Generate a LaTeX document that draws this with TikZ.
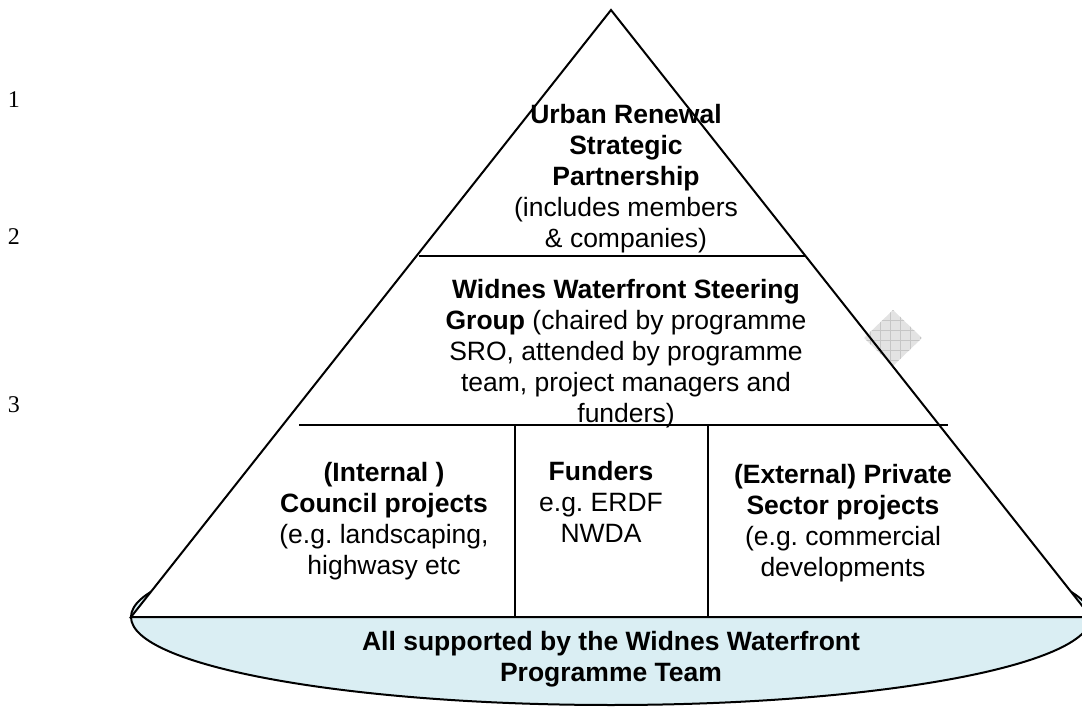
\documentclass[tikz,border=0pt]{standalone}
\usepackage{fontspec}
\setmainfont{Liberation Sans}
\newfontfamily\numfont{Liberation Serif}
\definecolor{baseblue}{RGB}{218,238,243}
\newcommand{\tierLine}[0]{2pt}

\tikzset{
  tier/.style={align=center, font=\fontsize{26.5}{31}\selectfont\frenchspacing},
  levelnum/.style={font=\numfont\fontsize{24}{28}\selectfont},
  divider/.style={line width=\tierLine},
}

\begin{document}
\begin{tikzpicture}[x=1pt, y=-1pt]
  \useasboundingbox (0,0) rectangle (1082,708);
  \clip (0,0) rectangle (1082,708);
  \coordinate (apex) at (611,10);
  \coordinate (baseL) at (131,617);
  \coordinate (baseR) at (1091,617);

  % programme team ellipse under the pyramid
  \draw[line width=\tierLine, fill=baseblue] (611,617) ellipse [x radius=480, y radius=88];
  \fill[white] (apex) -- (baseL) -- (baseR) -- cycle;

  % small grey gridded diamond
  \begin{scope}
    \clip (893,310) -- (922,338) -- (893,366) -- (864,338) -- cycle;
    \fill[gray!22] (860,305) rectangle (926,370);
    \draw[gray!45, line width=0.8pt] (860,305) grid[step=10pt] (926,370);
  \end{scope}

  \draw[line width=\tierLine] (apex) -- (baseL) -- (baseR) -- cycle;

  % tiers
  \coordinate (upL) at (419,256);
  \coordinate (upR) at (805,256);
  \coordinate (lowL) at (299,425);
  \coordinate (lowR) at (948,425);
  \draw[divider] (upL) -- (upR);
  \draw[divider] (lowL) -- (lowR);
  \draw[divider] (515,425) -- (515,617);
  \draw[divider] (708,425) -- (708,617);

  \node[tier] (urs) at (626,179)
    {\textbf{Urban Renewal}\\\textbf{Strategic}\\\textbf{Partnership}\\(includes members\\\& companies)};
  \node[tier] (steer) at (626,354)
    {\textbf{Widnes Waterfront Steering}\\\textbf{Group} (chaired by programme\\SRO, attended by programme\\team, project managers and\\funders)};
  \node[tier] (council) at (384,521)
    {\textbf{(Internal )}\\\textbf{Council projects}\\(e.g. landscaping,\\highwasy etc};
  \node[tier] (funders) at (601,502)
    {\textbf{Funders}\\e.g. ERDF\\NWDA};
  \node[tier] (private) at (843,523)
    {\textbf{(External) Private}\\\textbf{Sector projects}\\(e.g. commercial\\developments};
  \node[tier, font=\fontsize{26.5}{31}\selectfont\bfseries] (team) at (611,659)
    {All supported by the Widnes Waterfront\\Programme Team};

  % level numbers
  \node[levelnum] (lvl1) at (14,100) {1};
  \node[levelnum] (lvl2) at (14,237) {2};
  \node[levelnum] (lvl3) at (14,405) {3};
\end{tikzpicture}
\end{document}
